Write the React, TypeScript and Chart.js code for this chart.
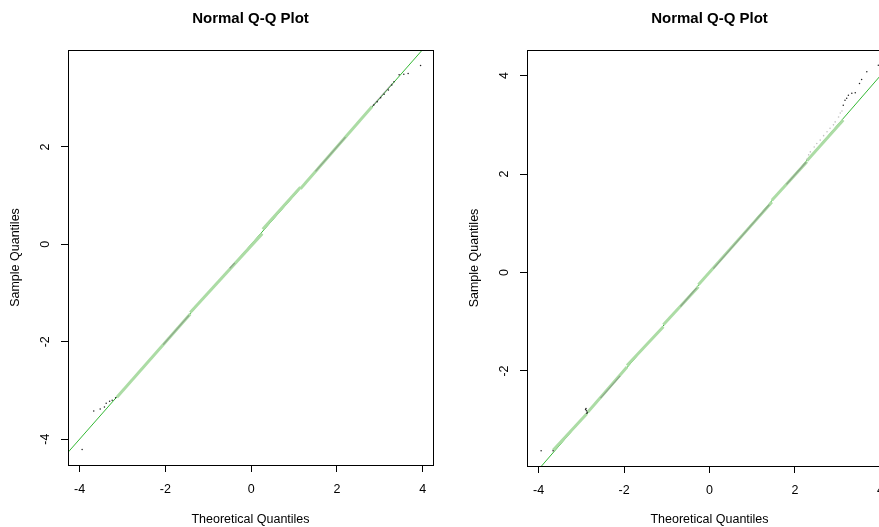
import React, { useEffect, useRef } from "react";
import { Chart, registerables } from "chart.js";

Chart.register(...registerables);

const FONT = "'Liberation Sans', Arial, Helvetica, sans-serif";
const QQ_COLOR = "#33b833";
const BAND_COLOR = "#acdca5";
const PATCH_COLOR = "rgba(110,110,110,0.5)";
const LIGHT_POINT_COLOR = "#c2c2c2";
const TAIL_COLOR = "#222222";

// ---------- left panel ----------
const leftXTicks = [-4, -2, 0, 2, 4];
const leftYTicks = [-4, -2, 0, 2];
const leftXLimits = [-4.27, 4.24];
const leftYLimits = [-4.53, 3.99];
const leftQQLine = [[-5, -5], [5, 5]];
const leftBand = [
  [[-3.13, -3.14], [-1.42, -1.43]],
  [[-1.42, -1.4], [0.26, 0.22]],
  [[0.27, 0.31], [1.15, 1.17]],
  [[1.15, 1.14], [2.82, 2.83]],
];
const leftPatches = [
  [[-2.05, -2.06], [-1.45, -1.46]],
  [[-0.5, -0.49], [-0.38, -0.38]],
  [[1.5, 1.5], [2.2, 2.2]],
  [[2.82, 2.83], [3.3, 3.31]],
];
const leftLightPoints: number[][] = [];
const leftTailPoints = [
  [-3.94, -4.21], [-3.67, -3.42], [-3.52, -3.38], [-3.42, -3.34], [-3.38, -3.26],
  [-3.3, -3.22], [-3.24, -3.2], [-3.16, -3.15],
  [2.86, 2.86], [2.94, 2.93], [3.02, 3.01], [3.1, 3.08], [3.2, 3.17], [3.28, 3.27],
  [3.33, 3.34], [3.45, 3.48], [3.56, 3.49], [3.66, 3.51], [3.95, 3.67],
];

// ---------- right panel ----------
const rightXTicks = [-4, -2, 0, 2, 4];
const rightYTicks = [-2, 0, 2, 4];
const rightXLimits = [-4.27, 4.27];
const rightYLimits = [-3.93, 4.52];
const rightQQLine = [[-5, -5], [5, 5]];
const rightBand = [
  [[-3.66, -3.61], [-2.87, -2.87]],
  [[-2.85, -2.84], [-1.93, -1.92]],
  [[-1.93, -1.89], [-1.08, -1.1]],
  [[-1.08, -1.06], [-0.26, -0.29]],
  [[-0.26, -0.25], [1.46, 1.43]],
  [[1.46, 1.47], [2.28, 2.25]],
  [[2.28, 2.27], [3.13, 3.1]],
];
const rightPatches = [
  [[-2.55, -2.55], [-2.09, -2.1]],
  [[-0.68, -0.69], [-0.3, -0.31]],
  [[0.09, 0.08], [1.4, 1.38]],
  [[1.8, 1.79], [2.26, 2.24]],
];
const rightLightPoints = [
  [2.28, 2.3], [2.32, 2.39], [2.36, 2.45], [2.45, 2.55], [2.51, 2.62], [2.59, 2.69],
  [2.67, 2.78], [2.75, 2.86], [2.82, 2.93], [2.9, 3.0], [2.94, 3.06], [3.02, 3.16],
  [3.06, 3.24], [3.1, 3.28],
];
const rightTailPoints = [
  [-3.94, -3.62], [-3.66, -3.62],
  [-2.9, -2.78], [-2.88, -2.81], [-2.86, -2.84], [-2.89, -2.76], [-2.87, -2.86],
  [3.13, 3.4], [3.17, 3.5], [3.21, 3.54], [3.25, 3.6], [3.33, 3.64], [3.41, 3.65],
  [3.51, 3.84], [3.56, 3.92], [3.68, 4.08], [3.95, 4.21],
];

const CANVAS_W = 440;
const CANVAS_H = 527;
const AXIS_W = 68;

const boxPlugin = {
  id: "rbox",
  afterDatasetsDraw(chart: any) {
    const { ctx, chartArea: a } = chart;
    const l = Math.floor(a.left) + 0.5;
    const t = Math.floor(a.top) + 0.5;
    const r = Math.floor(a.right) + 0.5;
    const b = Math.floor(a.bottom) + 0.5;
    ctx.save();
    ctx.strokeStyle = "#000";
    ctx.lineWidth = 1;
    ctx.strokeRect(l, t, r - l, b - t);
    ctx.restore();
  },
};

const yLabelPlugin = {
  id: "ylabels",
  afterDraw(chart: any) {
    const { ctx, chartArea, scales } = chart;
    const y = scales.y;
    ctx.save();
    ctx.font = `12.5px ${FONT}`;
    ctx.fillStyle = "#000";
    ctx.textAlign = "center";
    ctx.textBaseline = "middle";
    for (const t of y.ticks) {
      const py = y.getPixelForValue(t.value);
      ctx.save();
      ctx.translate(chartArea.left - 22, py);
      ctx.rotate(-Math.PI / 2);
      ctx.fillText(String(t.value), 0, 0);
      ctx.restore();
    }
    ctx.restore();
  },
};

type PanelProps = {
  left: number;
  xTicks: number[];
  yTicks: number[];
  xLim: number[];
  yLim: number[];
  qqLine: number[][];
  band: number[][][];
  patches: number[][][];
  lightPoints: number[][];
  tailPoints: number[][];
  plotBottom: number;
};

function Panel(p: PanelProps) {
  const ref = useRef<HTMLCanvasElement>(null);
  useEffect(() => {
    if (!ref.current) return;
    const toPts = (arr: number[][]) => arr.map(([x, y]) => ({ x, y }));
    const datasets: any[] = [];
    datasets.push({
      data: toPts(p.qqLine), showLine: true, borderColor: QQ_COLOR, borderWidth: 1,
      pointRadius: 0, order: 5,
    });
    p.band.forEach((seg) =>
      datasets.push({
        data: toPts(seg), showLine: true, borderColor: BAND_COLOR, borderWidth: 3,
        pointRadius: 0, order: 4, borderCapStyle: "butt",
      })
    );
    p.patches.forEach((seg) =>
      datasets.push({
        data: toPts(seg), showLine: true, borderColor: PATCH_COLOR, borderWidth: 1.2,
        pointRadius: 0, order: 3,
      })
    );
    if (p.lightPoints.length) {
      datasets.push({
        data: toPts(p.lightPoints), showLine: false, pointRadius: 0.8,
        backgroundColor: LIGHT_POINT_COLOR, borderWidth: 0, order: 2,
      });
    }
    datasets.push({
      data: toPts(p.tailPoints), showLine: false, pointRadius: 0.75,
      backgroundColor: TAIL_COLOR, borderWidth: 0, order: 1,
    });

    const gridOpts = {
      display: true, drawOnChartArea: false, drawTicks: true, tickLength: 7,
      color: "#000", lineWidth: 1,
    };

    const chart = new Chart(ref.current, {
      type: "scatter",
      data: { datasets },
      options: {
        animation: false,
        responsive: false,
        devicePixelRatio: 1,
        events: [],
        layout: { padding: { left: 0, right: 7, top: 0, bottom: 0 } },
        plugins: {
          legend: { display: false },
          tooltip: { enabled: false },
          title: {
            display: true,
            text: "Normal Q-Q Plot",
            fullSize: false,
            color: "#000",
            font: { family: FONT, size: 15, weight: "bold" },
            padding: { top: 10, bottom: 22 },
          },
        },
        scales: {
          x: {
            type: "linear",
            min: p.xLim[0],
            max: p.xLim[1],
            afterBuildTicks: (s: any) => {
              s.ticks = p.xTicks.map((v) => ({ value: v }));
            },
            afterFit: (s: any) => {
              s.height = CANVAS_H - p.plotBottom;
            },
            grid: gridOpts,
            border: { display: false },
            ticks: {
              color: "#000",
              font: { family: FONT, size: 12.5 },
              padding: 10,
              maxRotation: 0,
              autoSkip: false,
              callback: (v: any) => String(v),
            },
            title: {
              display: true,
              text: "Theoretical Quantiles",
              color: "#000",
              font: { family: FONT, size: 12.5 },
              padding: { top: 0, bottom: 0 },
            },
          },
          y: {
            type: "linear",
            min: p.yLim[0],
            max: p.yLim[1],
            afterBuildTicks: (s: any) => {
              s.ticks = p.yTicks.map((v) => ({ value: v }));
            },
            afterFit: (s: any) => {
              s.width = AXIS_W;
            },
            grid: gridOpts,
            border: { display: false },
            ticks: { display: false },
            title: {
              display: true,
              text: "Sample Quantiles",
              color: "#000",
              font: { family: FONT, size: 12.5 },
              padding: { top: 8.5, bottom: 0 },
            },
          },
        },
      } as any,
      plugins: [boxPlugin, yLabelPlugin],
    });
    return () => chart.destroy();
  }, []);
  return (
    <canvas
      ref={ref}
      width={CANVAS_W}
      height={CANVAS_H}
      style={{ position: "absolute", left: p.left, top: 0, width: CANVAS_W, height: CANVAS_H }}
    />
  );
}

export default function App() {
  return (
    <div
      style={{
        position: "absolute", left: 0, top: 0, width: 879, height: 527,
        overflow: "hidden", background: "#fff",
      }}
    >
      <Panel
        left={0}
        xTicks={leftXTicks}
        yTicks={leftYTicks}
        xLim={leftXLimits}
        yLim={leftYLimits}
        qqLine={leftQQLine}
        band={leftBand}
        patches={leftPatches}
        lightPoints={leftLightPoints}
        tailPoints={leftTailPoints}
        plotBottom={465}
      />
      <Panel
        left={459}
        xTicks={rightXTicks}
        yTicks={rightYTicks}
        xLim={rightXLimits}
        yLim={rightYLimits}
        qqLine={rightQQLine}
        band={rightBand}
        patches={rightPatches}
        lightPoints={rightLightPoints}
        tailPoints={rightTailPoints}
        plotBottom={466}
      />
    </div>
  );
}
